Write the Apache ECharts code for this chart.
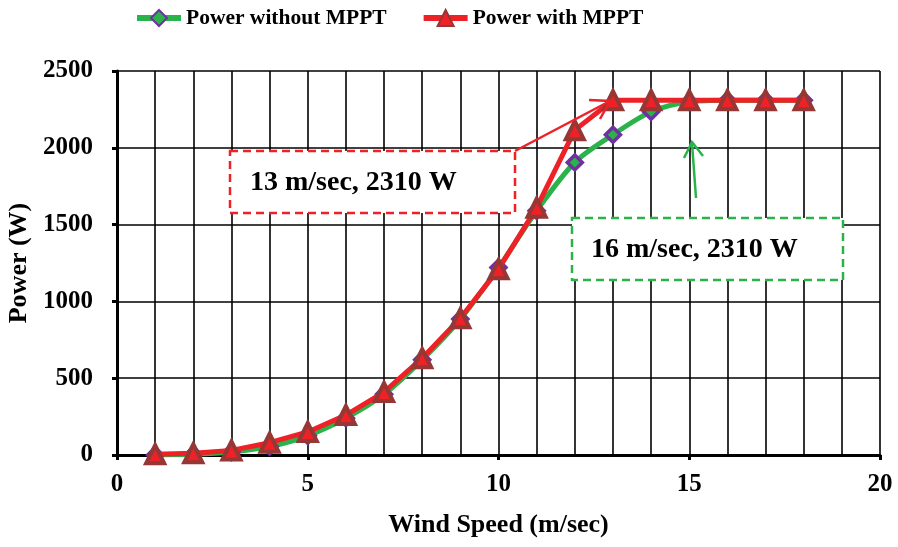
<!DOCTYPE html>
<html><head><meta charset="utf-8">
<script src="https://cdn.jsdelivr.net/npm/echarts@6/dist/echarts.min.js"></script>
<style>html,body{margin:0;padding:0;background:#fff}#c{width:898px;height:547px}</style>
</head><body><div id="c"></div>
<script>
const windSpeed = [1,2,3,4,5,6,7,8,9,10,11,12,13,14,15,16,17,18];
const powerWithout = [0,5,20,55,125,240,395,620,885,1220,1590,1905,2085,2235,2300,2310,2310,2310];
const powerWith = [5,12,30,80,150,260,410,630,890,1210,1610,2115,2310,2310,2310,2310,2310,2310];
const yTicks = [0,500,1000,1500,2000,2500];
const xTicks = [0,5,10,15,20];
const seriesNames = ['Power without MPPT','Power with MPPT'];

const FONT = 'Liberation Serif';
const chart = echarts.init(document.getElementById('c'));
const pair = (xs, ys) => xs.map((x,i)=>[x, ys[i]]);
chart.setOption({
  animation:false,
  textStyle:{fontFamily:FONT},
  legend:{
    top:2, left:129, itemWidth:44, itemHeight:20, itemGap:34,
    lineStyle:{width:6},
    textStyle:{fontFamily:FONT,fontWeight:'bold',fontSize:21.5,color:'#000'},
    data:seriesNames
  },
  grid:{left:117,right:18,top:71,bottom:92,outerBoundsMode:'none',containLabel:false},
  xAxis:{
    type:'value', min:xTicks[0], max:xTicks[xTicks.length-1], interval:5,
    name:'Wind Speed (m/sec)', nameLocation:'middle', nameGap:57,
    nameTextStyle:{fontFamily:FONT,fontWeight:'bold',fontSize:26,color:'#000'},
    axisLine:{onZero:false,lineStyle:{color:'#000',width:3}},
    axisTick:{show:true,inside:false,length:5,lineStyle:{color:'#000',width:3}},
    minorTick:{show:false,splitNumber:5},
    axisLabel:{margin:17,fontFamily:FONT,fontWeight:'bold',fontSize:25,color:'#000',formatter:v=>String(v)},
    splitLine:{show:true,lineStyle:{color:'#000',width:1.6}},
    minorSplitLine:{show:true,lineStyle:{color:'#000',width:1.6}}
  },
  yAxis:{
    type:'value', min:yTicks[0], max:yTicks[yTicks.length-1], interval:500,
    name:'Power (W)', nameLocation:'middle', nameGap:84, nameRotate:90,
    nameTextStyle:{fontFamily:FONT,fontWeight:'bold',fontSize:26,color:'#000'},
    axisLine:{show:true,lineStyle:{color:'#000',width:3}},
    axisTick:{show:true,inside:false,length:5,lineStyle:{color:'#000',width:3}},
    axisLabel:{margin:24,fontFamily:FONT,fontWeight:'bold',fontSize:25,color:'#000',formatter:v=>String(v)},
    splitLine:{show:true,lineStyle:{color:'#000',width:1.6}}
  },
  series:[
    {name:seriesNames[0],type:'line',data:pair(windSpeed,powerWithout),smooth:0.3,
     symbol:'diamond',symbolSize:15,z:3,
     lineStyle:{color:'#2bb34b',width:5},
     itemStyle:{color:'#2bb34b',borderColor:'#7030a0',borderWidth:3.5}},
    {name:seriesNames[1],type:'line',data:pair(windSpeed,powerWith),smooth:false,
     symbol:'triangle',symbolSize:18,z:4,
     lineStyle:{color:'#ee2127',width:5},
     itemStyle:{color:'#ee2127',borderColor:'#953735',borderWidth:4}}
  ],
  graphic:[
    {type:'rect',shape:{x:230,y:151,width:285,height:62},
     style:{fill:'#fff',stroke:'#ee2127',lineWidth:2.5,lineDash:[8,5]},z:100},
    {type:'text',x:250,y:183,style:{text:'13 m/sec, 2310 W',font:'bold 28px "Liberation Serif"',fill:'#000',verticalAlign:'middle'},z:101},
    {type:'polyline',shape:{points:[[515,151],[610,101]]},style:{stroke:'#ee2127',lineWidth:2.5},z:100},
    {type:'polyline',shape:{points:[[589,100],[610,101],[600,119]]},style:{stroke:'#ee2127',lineWidth:2.5,fill:null},z:100},
    {type:'rect',shape:{x:572,y:218,width:271,height:62},
     style:{fill:'#fff',stroke:'#2bb34b',lineWidth:2.5,lineDash:[8,5]},z:100},
    {type:'text',x:591,y:250,style:{text:'16 m/sec, 2310 W',font:'bold 28px "Liberation Serif"',fill:'#000',verticalAlign:'middle'},z:101},
    {type:'polyline',shape:{points:[[696,198],[692,143]]},style:{stroke:'#2bb34b',lineWidth:2.5},z:100},
    {type:'polyline',shape:{points:[[684,158],[692,142],[703,156]]},style:{stroke:'#2bb34b',lineWidth:2.5,fill:null},z:100}
  ]
});
</script></body></html>
